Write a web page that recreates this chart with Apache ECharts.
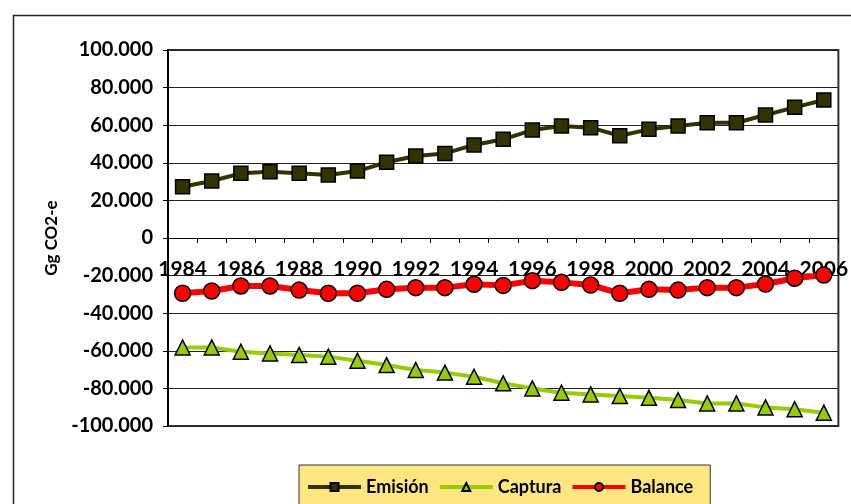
<!DOCTYPE html>
<html>
<head>
<meta charset="utf-8">
<script src="https://cdn.jsdelivr.net/npm/echarts@6/dist/echarts.min.js"></script>
<style>
  html, body { margin: 0; padding: 0; background: #fff; }
  #chart { width: 851px; height: 504px; }
</style>
</head>
<body>
<div id="chart"></div>
<script>
// años
const years = ['1984', '1985', '1986', '1987', '1988', '1989', '1990', '1991', '1992', '1993', '1994', '1995',
  '1996', '1997', '1998', '1999', '2000', '2001', '2002', '2003', '2004', '2005', '2006']

// Gg CO2-e
const emision = [27300, 30300, 34400, 35300, 34400, 33500, 35600, 40300, 43600, 45000, 49500, 52500,
  57400, 59600, 58700, 54400, 57800, 59600, 61300, 61300, 65400, 69500, 73400]
const captura = [-58200, -58200, -60500, -61400, -62200, -63100, -65300, -67600, -70200, -71600, -73800, -77300,
  -80000, -82300, -83200, -84100, -85000, -86200, -88000, -88000, -90100, -91100, -92900]
const balance = [-29400, -28200, -25500, -25500, -27700, -29400, -29400, -27300, -26400, -26400, -24600, -25200,
  -22700, -23600, -25000, -29400, -27300, -27700, -26400, -26400, -24500, -21400, -19700]

const FONT = 'Lato'

// separador de miles con punto
const fmt = v => {
  const s = String(Math.abs(v)).replace(/\B(?=(\d{3})+(?!\d))/g, '.')
  return (v < 0 ? '-' : '') + s
}

const chart = echarts.init(document.getElementById('chart'))

chart.setOption({
  animation: false,
  backgroundColor: '#fff',
  textStyle: { fontFamily: FONT },
  graphic: [{
    type: 'rect',
    left: 11, top: 13,
    shape: { width: 900, height: 600 },
    style: { fill: 'none', stroke: '#222', lineWidth: 1.5 },
    z: -1
  }],
  grid: {
    left: 168, top: 50, right: 5, bottom: 78,
    show: true,
    borderColor: '#333',
    borderWidth: 2
  },
  legend: {
    left: 299, top: 465,
    padding: [13, 17, 20, 7],
    itemGap: 9,
    itemWidth: 53,
    itemHeight: 10,
    backgroundColor: '#ffe680',
    borderColor: '#333',
    borderWidth: 1,
    lineStyle: { width: 4 },
    textStyle: { fontFamily: FONT, fontWeight: 'bold', fontSize: 18, color: '#000' },
    data: ['Emisión', 'Captura', 'Balance']
  },
  xAxis: {
    type: 'category',
    data: years,
    boundaryGap: true,
    position: 'bottom',
    // eje en la línea del 0
    offset: -188,
    axisLine: { onZero: false, lineStyle: { color: '#000', width: 1 } },
    axisTick: { show: true, interval: 0, length: 5, lineStyle: { color: '#000' } },
    axisLabel: {
      interval: 1,
      margin: 21,
      color: '#000',
      fontFamily: FONT,
      fontWeight: 'bold',
      fontSize: 21
    },
    splitLine: { show: false }
  },
  yAxis: {
    type: 'value',
    min: -100000,
    max: 100000,
    interval: 20000,
    name: 'Gg CO2-e',
    nameLocation: 'middle',
    nameGap: 106,
    nameTextStyle: { fontFamily: FONT, fontWeight: 'bold', fontSize: 17, color: '#000' },
    axisLine: { show: true, lineStyle: { color: '#000', width: 2 } },
    axisTick: { show: true, length: 5, lineStyle: { color: '#000' } },
    axisLabel: {
      formatter: fmt,
      margin: 15,
      color: '#000',
      fontFamily: FONT,
      fontWeight: 'bold',
      fontSize: 20
    },
    splitLine: { lineStyle: { color: '#222', width: 1 } }
  },
  series: [
    {
      name: 'Emisión',
      type: 'line',
      data: emision,
      symbol: 'rect',
      symbolSize: 14,
      color: '#333300',
      lineStyle: { color: '#333300', width: 4 },
      itemStyle: { color: '#333300', borderColor: '#000', borderWidth: 1.5 },
      z: 3
    },
    {
      name: 'Captura',
      type: 'line',
      data: captura,
      symbol: 'triangle',
      symbolSize: 15,
      color: '#99cc00',
      lineStyle: { color: '#99cc00', width: 4 },
      itemStyle: { color: '#99cc00', borderColor: '#000', borderWidth: 1.5 },
      z: 3
    },
    {
      name: 'Balance',
      type: 'line',
      data: balance,
      symbol: 'circle',
      symbolSize: 16,
      color: '#ff0000',
      lineStyle: { color: '#ff0000', width: 6 },
      itemStyle: { color: '#ff0000', borderColor: '#000', borderWidth: 1.5 },
      z: 4
    }
  ]
})

window.addEventListener('resize', () => chart.resize())
</script>
</body>
</html>
